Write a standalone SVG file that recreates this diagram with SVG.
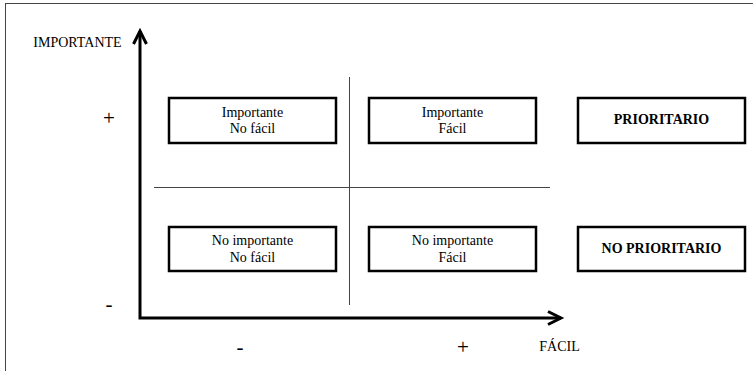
<svg xmlns="http://www.w3.org/2000/svg" width="753" height="371" viewBox="0 0 753 371">
<style>
.box{fill:#fff;stroke:#000;stroke-width:2.5}
.t{font-family:'Liberation Serif','Times New Roman',Times,'DejaVu Serif',serif;font-size:14px;fill:#000;text-anchor:middle}
.b{font-weight:bold}
.grid{stroke:#444;stroke-width:1}
.axis{stroke:#000;stroke-width:3;fill:none}
.sign{font-family:'Liberation Serif','Times New Roman',Times,'DejaVu Serif',serif;font-size:21px;fill:#000;text-anchor:middle}
</style>
<rect width="753" height="371" fill="#fff"/>
<g id="frame">
<line x1="5" y1="3.5" x2="753" y2="3.5" stroke="#444" stroke-width="1"/>
<line x1="5.5" y1="3" x2="5.5" y2="371" stroke="#444" stroke-width="1"/>
</g>
<g id="connectors">
<line class="grid" x1="349.5" y1="77" x2="349.5" y2="305"/>
<line class="grid" x1="154" y1="187.5" x2="550" y2="187.5"/>
<polyline class="axis" points="140,31 140,318 561,318"/>
<polyline class="axis" points="133.5,44 140,31 146.5,44"/>
<polyline class="axis" points="548,311.5 561,318 548,324.5"/>
</g>
<g id="n1"><rect class="box" x="169" y="98" width="167" height="45"/><text class="t" x="252.5" y="117">Importante</text><text class="t" x="252.5" y="133">No fácil</text></g>
<g id="n2"><rect class="box" x="369" y="98" width="167" height="45"/><text class="t" x="452.5" y="117">Importante</text><text class="t" x="452.5" y="133">Fácil</text></g>
<g id="n3"><rect class="box" x="578" y="98" width="167" height="45"/><text class="t b" x="661.5" y="124">PRIORITARIO</text></g>
<g id="n4"><rect class="box" x="169" y="227" width="167" height="44"/><text class="t" x="252.5" y="245">No importante</text><text class="t" x="252.5" y="262">No fácil</text></g>
<g id="n5"><rect class="box" x="369" y="227" width="167" height="44"/><text class="t" x="452.5" y="245">No importante</text><text class="t" x="452.5" y="262">Fácil</text></g>
<g id="n6"><rect class="box" x="578" y="227" width="167" height="44"/><text class="t b" x="661.5" y="253">NO PRIORITARIO</text></g>
<g id="labels">
<text class="t" x="77.5" y="47">IMPORTANTE</text>
<text class="t" x="559.5" y="351">FÁCIL</text>
<text class="sign" x="109" y="125">+</text>
<text class="sign" x="109" y="311">-</text>
<text class="sign" x="240" y="354">-</text>
<text class="sign" x="463" y="354">+</text>
</g>
</svg>
